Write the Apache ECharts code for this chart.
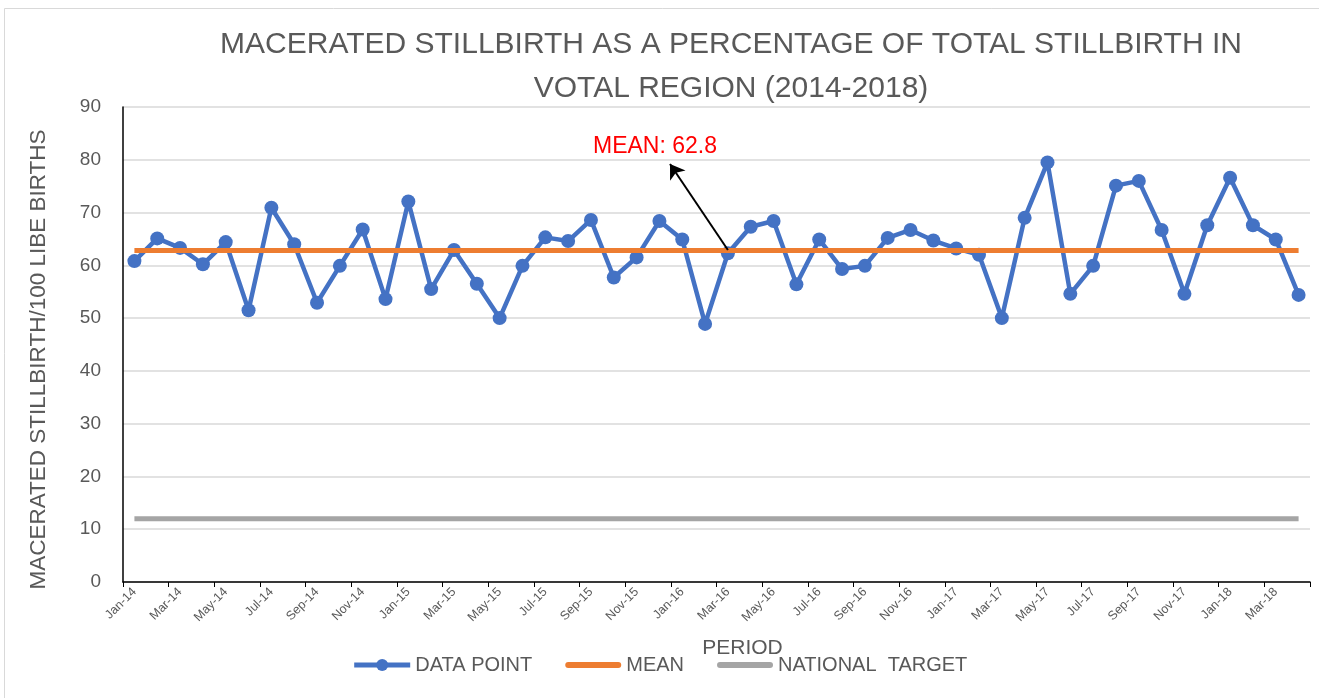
<!DOCTYPE html>
<html>
<head>
<meta charset="utf-8">
<script src="https://cdn.jsdelivr.net/npm/echarts@6/dist/echarts.min.js"></script>
<style>
  html, body { margin: 0; padding: 0; background: #fff; }
  #main { width: 1319px; height: 698px; }
</style>
</head>
<body>
<div id="main"></div>
<script>
// monthly periods Jan-14 .. Apr-18
const months = ['Jan', 'Feb', 'Mar', 'Apr', 'May', 'Jun', 'Jul', 'Aug', 'Sep', 'Oct', 'Nov', 'Dec'];
const years = ['14', '15', '16', '17', '18'];
const periods = [];
years.forEach(y => {
  months.forEach((m, i) => {
    if (y === '18' && i > 3) return;
    periods.push(m + '-' + y);
  });
});

// macerated stillbirth per 100
const dataPoints = [
  60.8, 65.1, 63.3, 60.2, 64.4, 51.5, 70.9, 64.0, 52.9, 59.9, 66.8, 53.6,
  72.1, 55.5, 62.9, 56.5, 50.0, 59.9, 65.3, 64.6, 68.6, 57.7, 61.5, 68.4,
  64.9, 48.9, 62.3, 67.3, 68.4, 56.4, 64.9, 59.3, 59.9, 65.2, 66.7, 64.7,
  63.2, 62.0, 50.0, 69.0, 79.5, 54.6, 59.9, 75.1, 76.0, 66.7, 54.6, 67.6,
  76.6, 67.6, 64.9, 54.4
];
const meanValue = 62.8;
const nationalTarget = 12;
const meanLine = periods.map(() => meanValue);
const targetLine = periods.map(() => nationalTarget);

const font = "'Liberation Sans', Arial, sans-serif";
const textGrey = '#595959';
// flat rounded bar used as legend icon for the plain lines
const barIcon = 'path://M3,0 L53,0 A3,3 0 0 1 53,6 L3,6 A3,3 0 0 1 3,0 Z';

const chart = echarts.init(document.getElementById('main'));
chart.setOption({
  animation: false,
  textStyle: { fontFamily: font },
  title: {
    text: 'MACERATED STILLBIRTH AS A PERCENTAGE OF TOTAL STILLBIRTH IN\nVOTAL REGION (2014-2018)',
    left: 726,
    textAlign: 'center',
    top: 18,
    textStyle: { fontFamily: font, fontSize: 30, fontWeight: 'normal', color: textGrey, lineHeight: 44 }
  },
  graphic: [{
    type: 'rect',
    shape: { x: 4.5, y: 8.5, width: 1320, height: 700 },
    style: { fill: 'none', stroke: '#d9d9d9', lineWidth: 1 }
  }],
  legend: {
    bottom: 18,
    left: 'center',
    itemWidth: 56,
    itemHeight: 15,
    itemGap: 33,
    lineStyle: { width: 5 },
    textStyle: { fontFamily: font, fontSize: 20, color: textGrey },
    data: [
      { name: 'DATA POINT' },
      { name: 'MEAN', icon: barIcon, itemHeight: 6 },
      { name: 'NATIONAL  TARGET', icon: barIcon, itemHeight: 6 }
    ]
  },
  grid: { left: 123, right: 9, top: 107, bottom: 116 },
  xAxis: {
    type: 'category',
    data: periods,
    boundaryGap: true,
    name: 'PERIOD',
    nameLocation: 'middle',
    nameGap: 56,
    nameTextStyle: { fontFamily: font, fontSize: 21, color: textGrey, padding: [0, 0, 0, 52] },
    axisLine: { lineStyle: { color: '#000', width: 1.5 } },
    axisTick: { show: true, interval: 1, length: 5, lineStyle: { color: '#000' } },
    axisLabel: { interval: 1, rotate: 45, fontSize: 12.5, color: textGrey, margin: 8 },
    splitLine: { show: false }
  },
  yAxis: {
    type: 'value',
    min: 0,
    max: 90,
    interval: 10,
    name: 'MACERATED STILLBIRTH/100 LIBE BIRTHS',
    nameLocation: 'middle',
    nameGap: 73,
    nameTextStyle: { fontFamily: font, fontSize: 22.5, color: textGrey, padding: [0, 30, 0, 0] },
    axisLine: { show: true, lineStyle: { color: '#000', width: 1.5 } },
    axisTick: { show: false },
    axisLabel: { fontSize: 19, color: textGrey, margin: 22 },
    splitLine: { lineStyle: { color: '#d9d9d9', width: 1.5 } }
  },
  series: [
    {
      name: 'DATA POINT',
      type: 'line',
      data: dataPoints,
      symbol: 'circle',
      symbolSize: 14,
      lineStyle: { color: '#4472c4', width: 4.5 },
      itemStyle: { color: '#4472c4' },
      z: 3
    },
    {
      name: 'MEAN',
      type: 'line',
      data: meanLine,
      symbol: 'none',
      lineStyle: { color: '#ed7d31', width: 5 },
      itemStyle: { color: '#ed7d31' },
      z: 4,
      markLine: {
        silent: true,
        symbol: ['none', 'arrow'],
        symbolSize: 14,
        lineStyle: { color: '#000', width: 2, type: 'solid' },
        label: { show: false },
        // annotation arrow: from the mean line up to the label
        data: [[{ coord: [26, 62.9] }, { x: 670, y: 164 }]]
      },
      markPoint: {
        silent: true,
        symbol: 'rect',
        symbolSize: 1,
        itemStyle: { color: 'rgba(0,0,0,0)' },
        label: {
          show: true,
          position: 'inside',
          formatter: 'MEAN: ' + meanValue,
          color: '#ff0000',
          fontSize: 23,
          fontFamily: font
        },
        data: [{ x: 655, y: 147 }]
      }
    },
    {
      name: 'NATIONAL  TARGET',
      type: 'line',
      data: targetLine,
      symbol: 'none',
      lineStyle: { color: '#a5a5a5', width: 5 },
      itemStyle: { color: '#a5a5a5' },
      z: 2
    }
  ]
});
</script>
</body>
</html>
